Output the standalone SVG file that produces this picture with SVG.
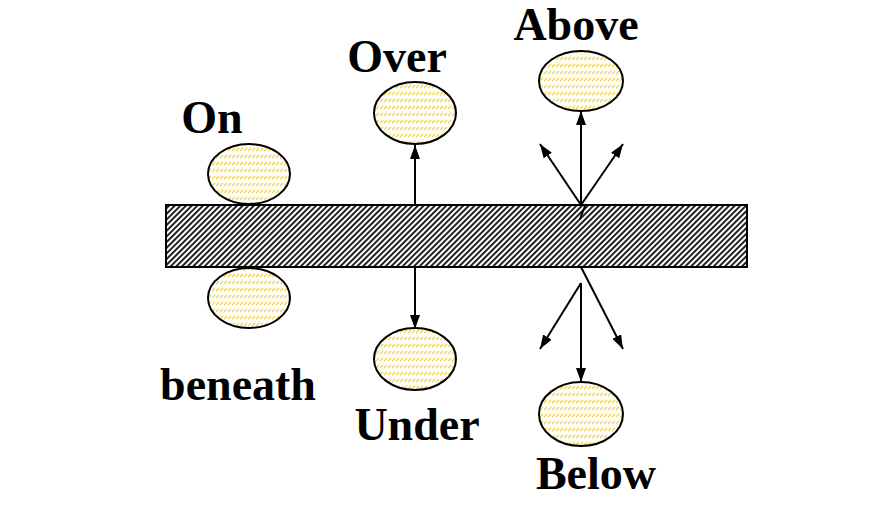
<svg xmlns="http://www.w3.org/2000/svg" width="874" height="520" viewBox="0 0 874 520">
<style>
.lbl{font-family:"Liberation Serif","Times New Roman",serif;font-weight:bold;font-size:46px;fill:#000;text-anchor:middle}
.ball{fill:url(#dots);stroke:#000;stroke-width:2}
.conn line{stroke:#000;stroke-width:2;marker-end:url(#ah)}
</style>
<defs>
<pattern id="hatch" patternUnits="userSpaceOnUse" width="4" height="4" patternTransform="rotate(45)">
<rect width="4" height="4" fill="#fff"/>
<rect x="0" y="0" width="2" height="4" fill="#222"/>
</pattern>
<pattern id="dots" patternUnits="userSpaceOnUse" width="4" height="7">
<rect width="4" height="7" fill="#fffef6"/>
<line x1="0" y1="4" x2="3" y2="1" stroke="#eccf5c" stroke-width="1.1"/>
</pattern>
<marker id="ah" viewBox="0 0 14 10" refX="14" refY="5" markerWidth="14" markerHeight="10" markerUnits="userSpaceOnUse" orient="auto">
<path d="M0,0 L14,5 L0,10 Z" fill="#000"/>
</marker>
</defs>
<rect width="874" height="520" fill="#fff"/>
<g id="bar"><rect x="166" y="205" width="581" height="62" fill="url(#hatch)" stroke="#000" stroke-width="2"/></g>
<g class="conn" id="connectors">
<line x1="415" y1="205" x2="415" y2="145"/>
<line x1="415" y1="267" x2="415" y2="329"/>
<line x1="581" y1="205" x2="581" y2="111"/>
<line x1="581" y1="205" x2="540" y2="144"/>
<line x1="581" y1="205" x2="623" y2="144"/>
<line x1="581" y1="283" x2="581" y2="382"/>
<line x1="581" y1="283" x2="540" y2="349"/>
<line x1="581" y1="267" x2="623" y2="349"/>
<line x1="585" y1="206" x2="580" y2="219" style="marker-end:none"/>
</g>
<g id="on"><ellipse class="ball" cx="249" cy="174" rx="41" ry="30"/><text class="lbl" x="212" y="133">On</text></g>
<g id="beneath"><ellipse class="ball" cx="249" cy="298" rx="41" ry="30"/><text class="lbl" x="238" y="400">beneath</text></g>
<g id="over"><ellipse class="ball" cx="415" cy="113" rx="41" ry="31"/><text class="lbl" x="397" y="72">Over</text></g>
<g id="under"><ellipse class="ball" cx="415" cy="359" rx="41" ry="31"/><text class="lbl" x="417" y="440">Under</text></g>
<g id="above"><ellipse class="ball" cx="581" cy="81" rx="42" ry="30"/><text class="lbl" x="576" y="40">Above</text></g>
<g id="below"><ellipse class="ball" cx="581" cy="414" rx="42" ry="32"/><text class="lbl" x="596" y="489">Below</text></g>
</svg>
